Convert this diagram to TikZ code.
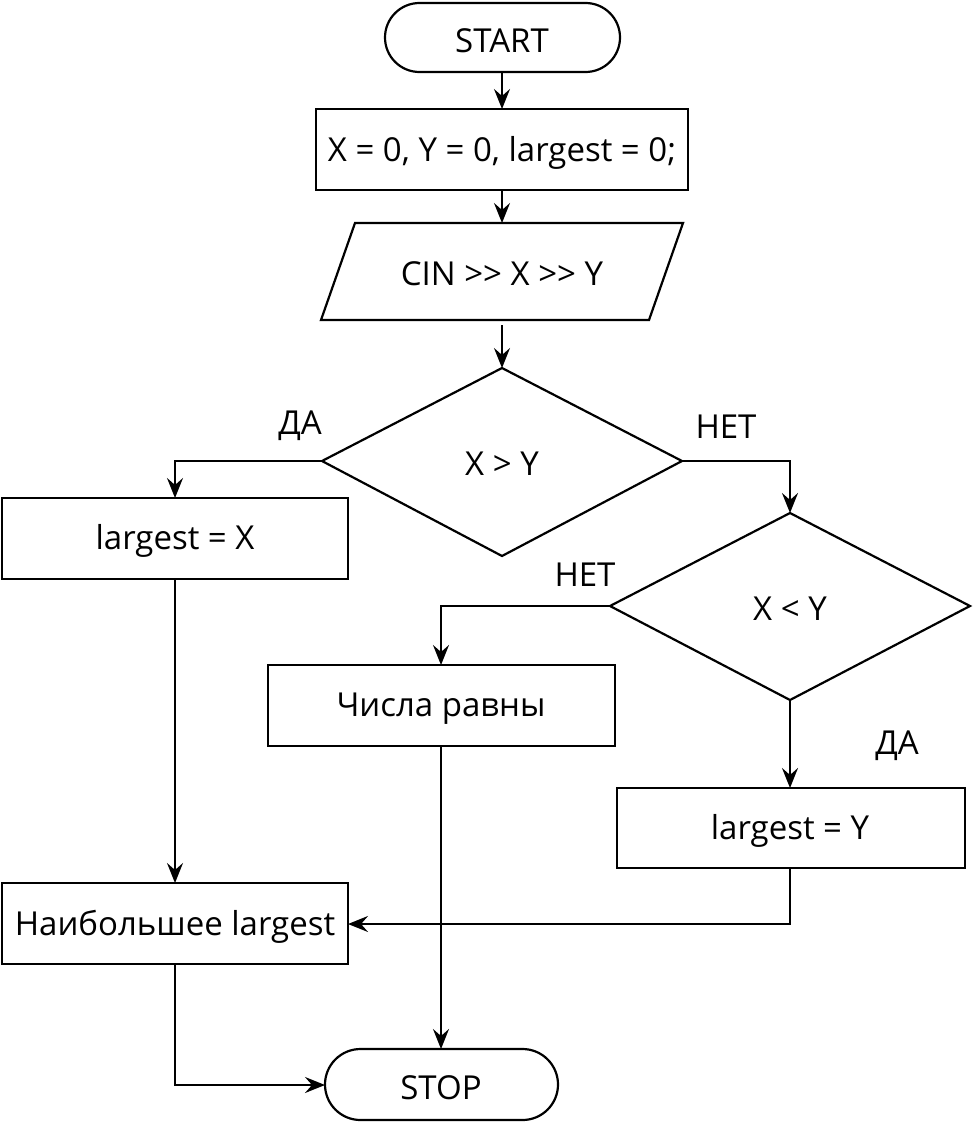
\documentclass[tikz,border=0pt]{standalone}
\usepackage{fontspec}
\setmainfont[Ligatures=NoCommon]{Open Sans}
\usetikzlibrary{arrows.meta,shapes.geometric}
\begin{document}
\begin{tikzpicture}[x=1pt,y=-1pt,
  txt/.style={font=\fontsize{33}{40}\selectfont,yshift=-3pt},
  conn/.style={line width=2.2pt,-{Stealth[length=20pt,width=16pt,inset=7pt]}},
  shp/.style={draw,line width=2.2pt}]
\useasboundingbox (0,0) rectangle (972,1124);
% shapes
\draw[shp,rounded corners=34.5pt] (385,3) rectangle (620,72);
\node[txt] (start) at (502,37.5) {START};
\coordinate (startB) at (502,72);
\draw[shp] (316,109) rectangle (688,190);
\node[txt] (init) at (502,150) {X = 0, Y = 0, largest = 0;};
\coordinate (initT) at (502,109);
\coordinate (initB) at (502,190);
\draw[shp] (355,223) -- (683,223) -- (649,320) -- (321,320) -- cycle;
\node[txt] (cin) at (502,271) {CIN {>}{>} X {>}{>} Y};
\coordinate (cinT) at (502,223);
\coordinate (cinB) at (502,325);
\draw[shp] (502,368) -- (682,461) -- (502,556) -- (322,461) -- cycle;
\node[txt] (d1) at (502,461) {X {>} Y};
\coordinate (d1T) at (502,368);
\coordinate (d1L) at (322,461);
\coordinate (d1R) at (682,461);
\draw[shp] (790,513) -- (970,606) -- (790,700) -- (610,606) -- cycle;
\node[txt] (d2) at (790,606) {X {<} Y};
\coordinate (d2T) at (790,513);
\coordinate (d2L) at (610,606);
\coordinate (d2B) at (790,700);
\draw[shp] (2,498) rectangle (348,579);
\node[txt] (lx) at (175,538) {largest = X};
\coordinate (lxT) at (175,498);
\coordinate (lxB) at (175,579);
\draw[shp] (268,665) rectangle (615,746);
\node[txt] (eq) at (441,706) {Числа равны};
\coordinate (eqT) at (441,665);
\coordinate (eqB) at (441,746);
\draw[shp] (617,788) rectangle (965,868);
\node[txt] (ly) at (790,828) {largest = Y};
\coordinate (lyT) at (790,788);
\coordinate (lyB) at (790,868);
\draw[shp] (2,883) rectangle (348,964);
\node[txt] (big) at (175,924) {Наибольшее largest};
\coordinate (bigT) at (175,883);
\coordinate (bigR) at (348,924);
\coordinate (bigB) at (175,964);
\draw[shp,rounded corners=35.5pt] (325,1049) rectangle (558,1120);
\node[txt] (stop) at (441,1085) {STOP};
\coordinate (stopT) at (441,1049);
\coordinate (stopL) at (325,1085);
% labels
\node[txt] (da1) at (300,423) {ДА};
\node[txt] (net1) at (726,424) {НЕТ};
\node[txt] (net2) at (585,572) {НЕТ};
\node[txt] (da2) at (897,743) {ДА};
% connectors
\draw[conn] (startB) -- (initT);
\draw[conn] (initB) -- (cinT);
\draw[conn] (cinB) -- (d1T);
\draw[conn] (d1L) -| (lxT);
\draw[conn] (d1R) -| (d2T);
\draw[conn] (d2L) -| (eqT);
\draw[conn] (d2B) -- (lyT);
\draw[conn] (lxB) -- (bigT);
\draw[conn] (lyB) |- (bigR);
\draw[conn] (eqB) -- (stopT);
\draw[conn] (bigB) |- (stopL);
\end{tikzpicture}
\end{document}
